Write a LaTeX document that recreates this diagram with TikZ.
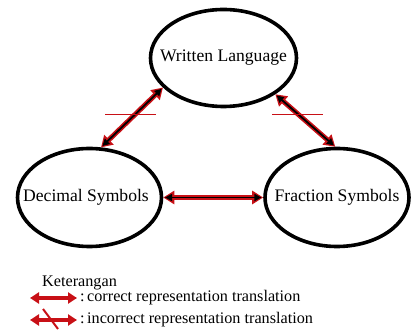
\documentclass[tikz,border=0pt]{standalone}
\usepackage{fontspec}
\setmainfont{Liberation Serif}
\usetikzlibrary{shapes.geometric,arrows.meta}
\definecolor{arrred}{RGB}{200,16,22}
\newcommand{\zbox}[1]{\makebox[0pt]{#1}}
\begin{document}
\begin{tikzpicture}[x=1pt,y=-1pt,
  bubble/.style={ellipse, draw=black, line width=3.6pt, inner sep=0pt,
    font=\fontsize{17.6}{20}\selectfont},
  outerarrow/.style={draw=arrred, line width=5pt,
    {Triangle[length=11pt,width=13pt]}-{Triangle[length=11pt,width=13pt]}},
  corearrow/.style={draw=black, line width=1.8pt, shorten <=1.8pt, shorten >=1.8pt,
    {Triangle[length=7pt,width=7pt]}-{Triangle[length=7pt,width=7pt]}},
  legarrow/.style={draw=arrred, line width=4.5pt,
    {Triangle[length=9pt,width=11pt]}-{Triangle[length=9pt,width=11pt]}},
  tick/.style={draw=arrred, line width=1pt},
  slash/.style={draw=arrred, line width=2pt},
  legtext/.style={anchor=west, inner sep=0pt, font=\fontsize{16.2}{18}\selectfont}
]
\useasboundingbox (0,0) rectangle (412,336);
\node[bubble, minimum width=146pt, minimum height=97pt] (wl) at (223.5,58) {\zbox{Written Language}};
\node[bubble, minimum width=144pt, minimum height=98pt] (ds) at (89.5,197.5) {\zbox{\hspace*{-7pt}Decimal Symbols}};
\node[bubble, minimum width=144pt, minimum height=98pt] (fs) at (337,197.5) {\zbox{Fraction Symbols}};

% connectors
\draw[outerarrow] (wl.206) -- (ds.77);
\draw[corearrow] (wl.206) -- (ds.77);
\draw[outerarrow] (wl.325) -- (fs.92);
\draw[corearrow] (wl.325) -- (fs.92);
\draw[outerarrow] (ds.east) -- (fs.west);
\draw[corearrow] (ds.east) -- (fs.west);

% crossing marks
\coordinate (t1a) at (105,114.5);
\coordinate (t1b) at (156,114.5);
\coordinate (t2a) at (272,115);
\coordinate (t2b) at (323,115);
\draw[tick] (t1a) -- (t1b);
\draw[tick] (t2a) -- (t2b);

% legend
\node[legtext] (ket) at (42,283) {Keterangan};
\coordinate (l1a) at (30,298);
\coordinate (l1b) at (77,298);
\coordinate (l2a) at (30,320);
\coordinate (l2b) at (77,320);
\draw[legarrow] (l1a) -- (l1b);
\draw[legarrow] (l2a) -- (l2b);
\coordinate (s1) at (43,309);
\coordinate (s2) at (58,329);
\draw[slash] (s1) -- (s2);
\node[legtext] (lt1) at (80,298) {:\kern2.5pt correct representation translation};
\node[legtext] (lt2) at (80,320) {:\kern2.5pt incorrect representation translation};
\end{tikzpicture}
\end{document}
